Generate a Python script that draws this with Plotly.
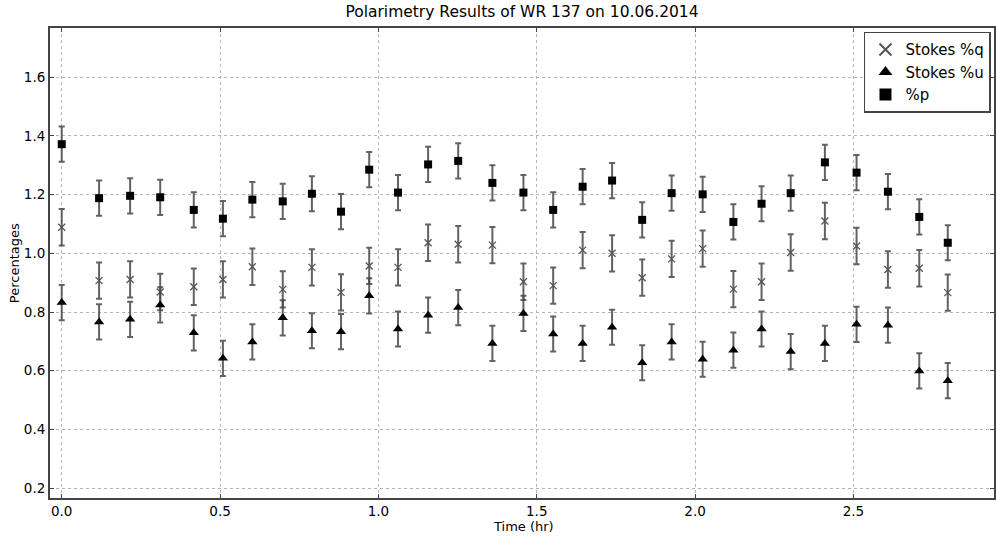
import plotly.graph_objects as go

time_hr = [0.000, 0.118, 0.216, 0.311, 0.417, 0.509, 0.602, 0.698, 0.790, 0.882,
           0.971, 1.062, 1.157, 1.252, 1.360, 1.458, 1.552, 1.645, 1.738, 1.833,
           1.926, 2.024, 2.121, 2.210, 2.302, 2.410, 2.510, 2.609, 2.708, 2.798]

stokes_q = [1.089, 0.907, 0.911, 0.868, 0.886, 0.911, 0.954, 0.877, 0.952, 0.867,
            0.957, 0.952, 1.036, 1.031, 1.028, 0.903, 0.890, 1.011, 1.000, 0.917,
            0.981, 1.016, 0.878, 0.903, 1.003, 1.110, 1.025, 0.945, 0.949, 0.866]

stokes_u = [0.832, 0.766, 0.775, 0.824, 0.729, 0.642, 0.698, 0.780, 0.736, 0.733,
            0.855, 0.742, 0.789, 0.815, 0.693, 0.795, 0.725, 0.693, 0.748, 0.627,
            0.698, 0.639, 0.670, 0.742, 0.665, 0.693, 0.758, 0.755, 0.599, 0.566]

pol_p = [1.372, 1.188, 1.196, 1.191, 1.148, 1.118, 1.183, 1.177, 1.203, 1.142,
         1.285, 1.207, 1.303, 1.315, 1.240, 1.207, 1.148, 1.227, 1.248, 1.114,
         1.205, 1.201, 1.107, 1.169, 1.205, 1.310, 1.275, 1.210, 1.124, 1.036]

err_q = [0.062] * len(time_hr)
err_u = [0.060] * len(time_hr)
err_p = [0.060] * len(time_hr)

x_ticks = [0.0, 0.5, 1.0, 1.5, 2.0, 2.5]
y_ticks = [0.2, 0.4, 0.6, 0.8, 1.0, 1.2, 1.4, 1.6]

font_family = "DejaVu Sans"
err_color = "rgba(70,70,70,0.85)"

fig = go.Figure()

fig.add_trace(go.Scatter(
    x=time_hr, y=stokes_q, mode="markers", name="Stokes %q",
    marker=dict(symbol="x-thin", size=7, color="#555555",
                line=dict(width=1.3, color="#555555")),
    error_y=dict(type="data", array=err_q, color=err_color, thickness=2, width=3),
))
fig.add_trace(go.Scatter(
    x=time_hr, y=stokes_u, mode="markers", name="Stokes %u",
    marker=dict(symbol="triangle-up", size=9, color="black"),
    error_y=dict(type="data", array=err_u, color=err_color, thickness=2, width=3),
))
fig.add_trace(go.Scatter(
    x=time_hr, y=pol_p, mode="markers", name="%p",
    marker=dict(symbol="square", size=8, color="black"),
    error_y=dict(type="data", array=err_p, color=err_color, thickness=2, width=3),
))

axis_common = dict(
    showline=True, linecolor="#444444", linewidth=2, mirror="allticks",
    ticks="inside", ticklen=4, tickcolor="#444444",
    showgrid=True, gridcolor="#b4b4b4", griddash="dot", gridwidth=1,
    zeroline=False, automargin=False,
    tickfont=dict(family=font_family, size=13.5, color="black"),
    tickformat=".1f",
)

fig.update_layout(
    width=996, height=537,
    margin=dict(l=50, r=2, t=28, b=39),
    paper_bgcolor="white", plot_bgcolor="white",
    font=dict(family=font_family, color="black", size=13),
    title=dict(text="Polarimetry Results of WR 137 on 10.06.2014",
               xref="paper", x=0.5, xanchor="center",
               yref="container", y=1 - 12 / 537, yanchor="middle",
               font=dict(family=font_family, size=15.5, color="black")),
    xaxis=dict(range=[-0.037, 2.944], tickvals=x_ticks, **axis_common),
    yaxis=dict(range=[0.166, 1.768], tickvals=y_ticks, **axis_common),
    legend=dict(x=0.9968, y=0.992, xanchor="right", yanchor="top",
                bordercolor="#444444", borderwidth=1.5, bgcolor="white",
                font=dict(family=font_family, size=15),
                itemsizing="constant", tracegroupgap=0),
    showlegend=True,
    annotations=[
        dict(text="Time (hr)", xref="paper", yref="paper", x=0.502, y=-0.0617,
             xanchor="center", yanchor="middle", showarrow=False,
             font=dict(family=font_family, size=13, color="black")),
        dict(text="Percentages", xref="paper", yref="paper", x=-0.038, y=0.5,
             xanchor="center", yanchor="middle", showarrow=False, textangle=-90,
             font=dict(family=font_family, size=13, color="black")),
    ],
)

fig.write_html("out.html", config={"displayModeBar": False},
               post_script="document.body.style.margin='0';")
